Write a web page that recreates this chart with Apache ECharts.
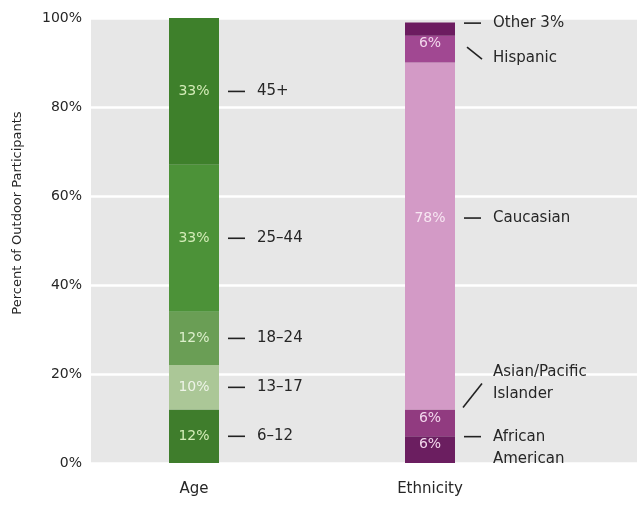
<!DOCTYPE html>
<html>
<head>
<meta charset="utf-8">
<script src="https://cdn.jsdelivr.net/npm/echarts@6/dist/echarts.min.js"></script>
<style>
  html, body { margin: 0; padding: 0; background: #ffffff; }
  #chart { width: 637px; height: 508px; }
</style>
</head>
<body>
<div id="chart"></div>
<script>
// Share of outdoor participants by age group and by ethnicity (percent)
const categories = ['Age', 'Ethnicity'];
const ageGroups = ['6–12', '13–17', '18–24', '25–44', '45+'];
const agePct = [12, 10, 12, 33, 33];
const ethnicGroups = ['African American', 'Asian/Pacific Islander', 'Caucasian', 'Hispanic', 'Other'];
const ethnicPct = [6, 6, 78, 6, 3];
const ethnicCallouts = ['African\nAmerican', 'Asian/Pacific\nIslander', 'Caucasian', 'Hispanic', 'Other 3%'];
const yTicks = [0, 20, 40, 60, 80, 100];

// styling
const FONT = 'DejaVu Sans';
const TEXT = '#262626';
const ageColors = ['#3f7d2c', '#abc797', '#6a9e55', '#4c9238', '#3e802b'];
const ageTextColors = ['#d4ecb8', '#eef4e8', '#dcefcb', '#d4ecb8', '#d4ecb8'];
const ethnicColors = ['#6b1e60', '#913b80', '#d39ac6', '#a14892', '#6c1c60'];
const ethnicTextColors = ['#f2d6ec', '#f2d6ec', '#f7e6f2', '#f2d6ec', '#f2d6ec'];
const ethnicNudge = [-5, -5, -18, -6, 0];      // inside-label nudge (px)
const ethnicLeader = ['dash', 'up', 'dash', 'down', 'dash'];
const ethnicCalloutNudge = [-13, 0, -18, 0, -6];

const BAR_W = 50;
const chart = echarts.init(document.getElementById('chart'), null, { renderer: 'canvas' });

const series = [];
ageGroups.forEach((g, i) => {
  series.push({
    name: g, type: 'bar', stack: 'share', xAxisIndex: 1, yAxisIndex: 1,
    barWidth: BAR_W,
    data: [agePct[i], '-'],
    itemStyle: { color: ageColors[i] },
    label: {
      show: true, position: 'inside', formatter: '{c}%',
      color: ageTextColors[i], fontFamily: FONT, fontSize: 14
    }
  });
});
ethnicGroups.forEach((g, i) => {
  series.push({
    name: g, type: 'bar', stack: 'share', xAxisIndex: 1, yAxisIndex: 1,
    barWidth: BAR_W,
    data: ['-', ethnicPct[i]],
    itemStyle: { color: ethnicColors[i] },
    label: {
      show: i !== ethnicGroups.length - 1, position: 'inside', formatter: '{c}%',
      offset: [0, ethnicNudge[i]],
      color: ethnicTextColors[i], fontFamily: FONT, fontSize: 14
    }
  });
});

const option = {
  animation: false,
  backgroundColor: '#ffffff',
  grid: [
    // backdrop panel with gridlines, spanning to the right edge
    { left: 91, right: 0, top: 18, bottom: 45, show: true, backgroundColor: '#e7e7e7', borderWidth: 0 },
    // bars
    { left: 76, right: 89, top: 18, bottom: 45 }
  ],
  xAxis: [
    { gridIndex: 0, type: 'value', show: false, min: 0, max: 1 },
    {
      gridIndex: 1, type: 'category', data: categories,
      axisLine: { show: false }, axisTick: { show: false },
      axisLabel: { margin: 19, color: TEXT, fontFamily: FONT, fontSize: 15 }
    }
  ],
  yAxis: [
    {
      gridIndex: 0, type: 'value', min: yTicks[0], max: yTicks[yTicks.length - 1], interval: 20,
      axisLine: { show: false }, axisTick: { show: false },
      axisLabel: { margin: 9, color: TEXT, fontFamily: FONT, fontSize: 14, formatter: '{value}%' },
      splitLine: { show: true, lineStyle: { color: '#ffffff', width: 2.5 } }
    },
    { gridIndex: 1, type: 'value', min: 0, max: 100, show: false, splitLine: { show: false } }
  ],
  series: series
};
chart.setOption(option);

// Callout labels to the right of each bar, positioned through the axis scales
const toPx = (cat, v) => chart.convertToPixel({ xAxisIndex: 1, yAxisIndex: 1 }, [cat, v]);
const graphics = [];
const leaderStyle = { stroke: '#222222', lineWidth: 1.6 };
const textStyleBase = { fill: TEXT, font: '15px "' + FONT + '"', lineHeight: 22 };

function dash(x, y) {
  graphics.push({ type: 'line', shape: { x1: x + 9, y1: y, x2: x + 26, y2: y }, style: leaderStyle, silent: true });
}
function label(x, y, text, verticalAlign) {
  graphics.push({
    type: 'text', x: x + 38, y: y, silent: true,
    style: Object.assign({}, textStyleBase, { text: text, verticalAlign: verticalAlign || 'middle' })
  });
}

let cum = 0;
ageGroups.forEach((g, i) => {
  const mid = cum + agePct[i] / 2;
  cum += agePct[i];
  const p = toPx('Age', mid);
  const right = p[0] + BAR_W / 2;
  dash(right, p[1]);
  label(right, p[1], g);
});

cum = 0;
ethnicGroups.forEach((g, i) => {
  const mid = cum + ethnicPct[i] / 2;
  cum += ethnicPct[i];
  const pMid = toPx('Ethnicity', mid);
  const pTop = toPx('Ethnicity', cum);
  const right = pMid[0] + BAR_W / 2;
  const kind = ethnicLeader[i];
  if (kind === 'dash') {
    const y = pMid[1] + ethnicCalloutNudge[i];
    dash(right, y);
    // first line centred on the leader
    label(right, y - 11, ethnicCallouts[i], 'top');
  } else if (kind === 'up') {
    const y0 = pTop[1] - 2;
    graphics.push({ type: 'line', shape: { x1: right + 8, y1: y0, x2: right + 27, y2: y0 - 24 }, style: leaderStyle, silent: true });
    label(right, y0 - 46, ethnicCallouts[i], 'top');
  } else {
    const y0 = pMid[1] - 2;
    graphics.push({ type: 'line', shape: { x1: right + 12, y1: y0, x2: right + 27, y2: y0 + 12 }, style: leaderStyle, silent: true });
    label(right, y0 + 11, ethnicCallouts[i]);
  }
});

// rotated axis title
graphics.push({
  type: 'text', x: 18, y: 213, rotation: Math.PI / 2, silent: true,
  style: { text: 'Percent of Outdoor Participants', fill: TEXT, font: '13px "' + FONT + '"', align: 'center', verticalAlign: 'middle' }
});

chart.setOption({ graphic: graphics });
</script>
</body>
</html>
